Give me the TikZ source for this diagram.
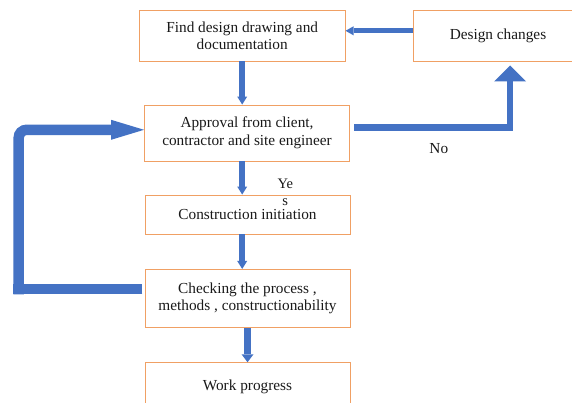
\documentclass[tikz,border=0pt]{standalone}
\usepackage{fontspec}
\setmainfont{Liberation Serif}
\usetikzlibrary{arrows.meta,calc}
\definecolor{boxc}{RGB}{240,160,100}
\definecolor{arrc}{RGB}{68,114,196}
\definecolor{txtc}{RGB}{25,25,25}
\tikzset{
  boxnode/.style={draw=boxc, line width=0.9pt, fill=white, text=txtc, align=center, inner sep=0pt,
    font=\fontsize{15.3}{17.5}\selectfont},
  blk/.style={draw=arrc, line cap=butt, line join=miter},
  lbl/.style={text=txtc, inner sep=0pt, font=\fontsize{15.3}{17.5}\selectfont},
  thinarr/.style={blk, line width=5.5pt, -{Triangle[width=10pt,length=8pt,line width=0pt]}}
}
\begin{document}
\begin{tikzpicture}[x=1pt,y=-1pt]
\useasboundingbox (0,0) rectangle (572,403);
\clip (0,0) rectangle (572,403);
\fill[white] (0,0) rectangle (572,403);
% boxes
\node[boxnode, minimum width=205.7pt, minimum height=50.3pt] (find) at (242.2,35.9) {Find design drawing and\\documentation};
\node[boxnode, minimum width=169.4pt, minimum height=50.3pt] (dc) at (498,35.9) {Design changes};
\node[boxnode, minimum width=205pt, minimum height=56pt] (appr) at (247,133) {Approval from client,\\contractor and site engineer};
\node[boxnode, minimum width=205pt, minimum height=39pt] (ci) at (247.5,214.5) {Construction initiation};
\node[boxnode, minimum width=205pt, minimum height=58pt] (chk) at (247.5,298.4) {Checking the process ,\\methods , constructionability};
\node[boxnode, minimum width=205pt, minimum height=48pt] (wp) at (247.5,386.7) {Work progress};
% labels
\node[lbl] (no) at (438.8,148.3) {No};
\node[lbl, align=center, font=\fontsize{14.5}{17.2}\selectfont] (yes) at (285.3,192.6) {Ye\\s};
% arrows
\draw[blk, line width=5pt, -{Triangle[width=9pt,length=8pt,line width=0pt]}] ($(dc.west)+(0,-5.1)$) -- ($(find.east)+(0,-5.1)$);
\draw[thinarr] (find.south) -- (find.south |- appr.north);
\draw[thinarr] (find.south |- appr.south) -- (find.south |- ci.north);
\draw[thinarr] (find.south |- ci.south) -- (find.south |- chk.north);
\draw[blk, line width=7pt, -{Triangle[width=12pt,length=8pt,line width=0pt]}] (chk.south) -- (wp.north);
\coordinate (nc) at (510,127.7);
\draw[blk, line width=6.7pt, -{Triangle[width=32pt,length=16pt,line width=0pt]}] ($(appr.east)+(4.5,-5.3)$) -- (nc) -- ($(nc |- dc.south)+(0,4)$);
\coordinate (lt) at ($(appr.west)+(0,-3.2)$);
\coordinate (lb) at (18.7,289);
\draw[blk, line width=10.5pt] ($(chk.west)+(-2.3,-9.4)$) -- ($(lb)+(-5.25,0)$);
\draw[blk, line width=10.5pt, rounded corners=8pt, -{Triangle[width=20pt,length=33pt,line width=0pt]}] ($(lb)+(0,5.25)$) -- (lb |- lt) -- (lt);
\end{tikzpicture}
\end{document}
